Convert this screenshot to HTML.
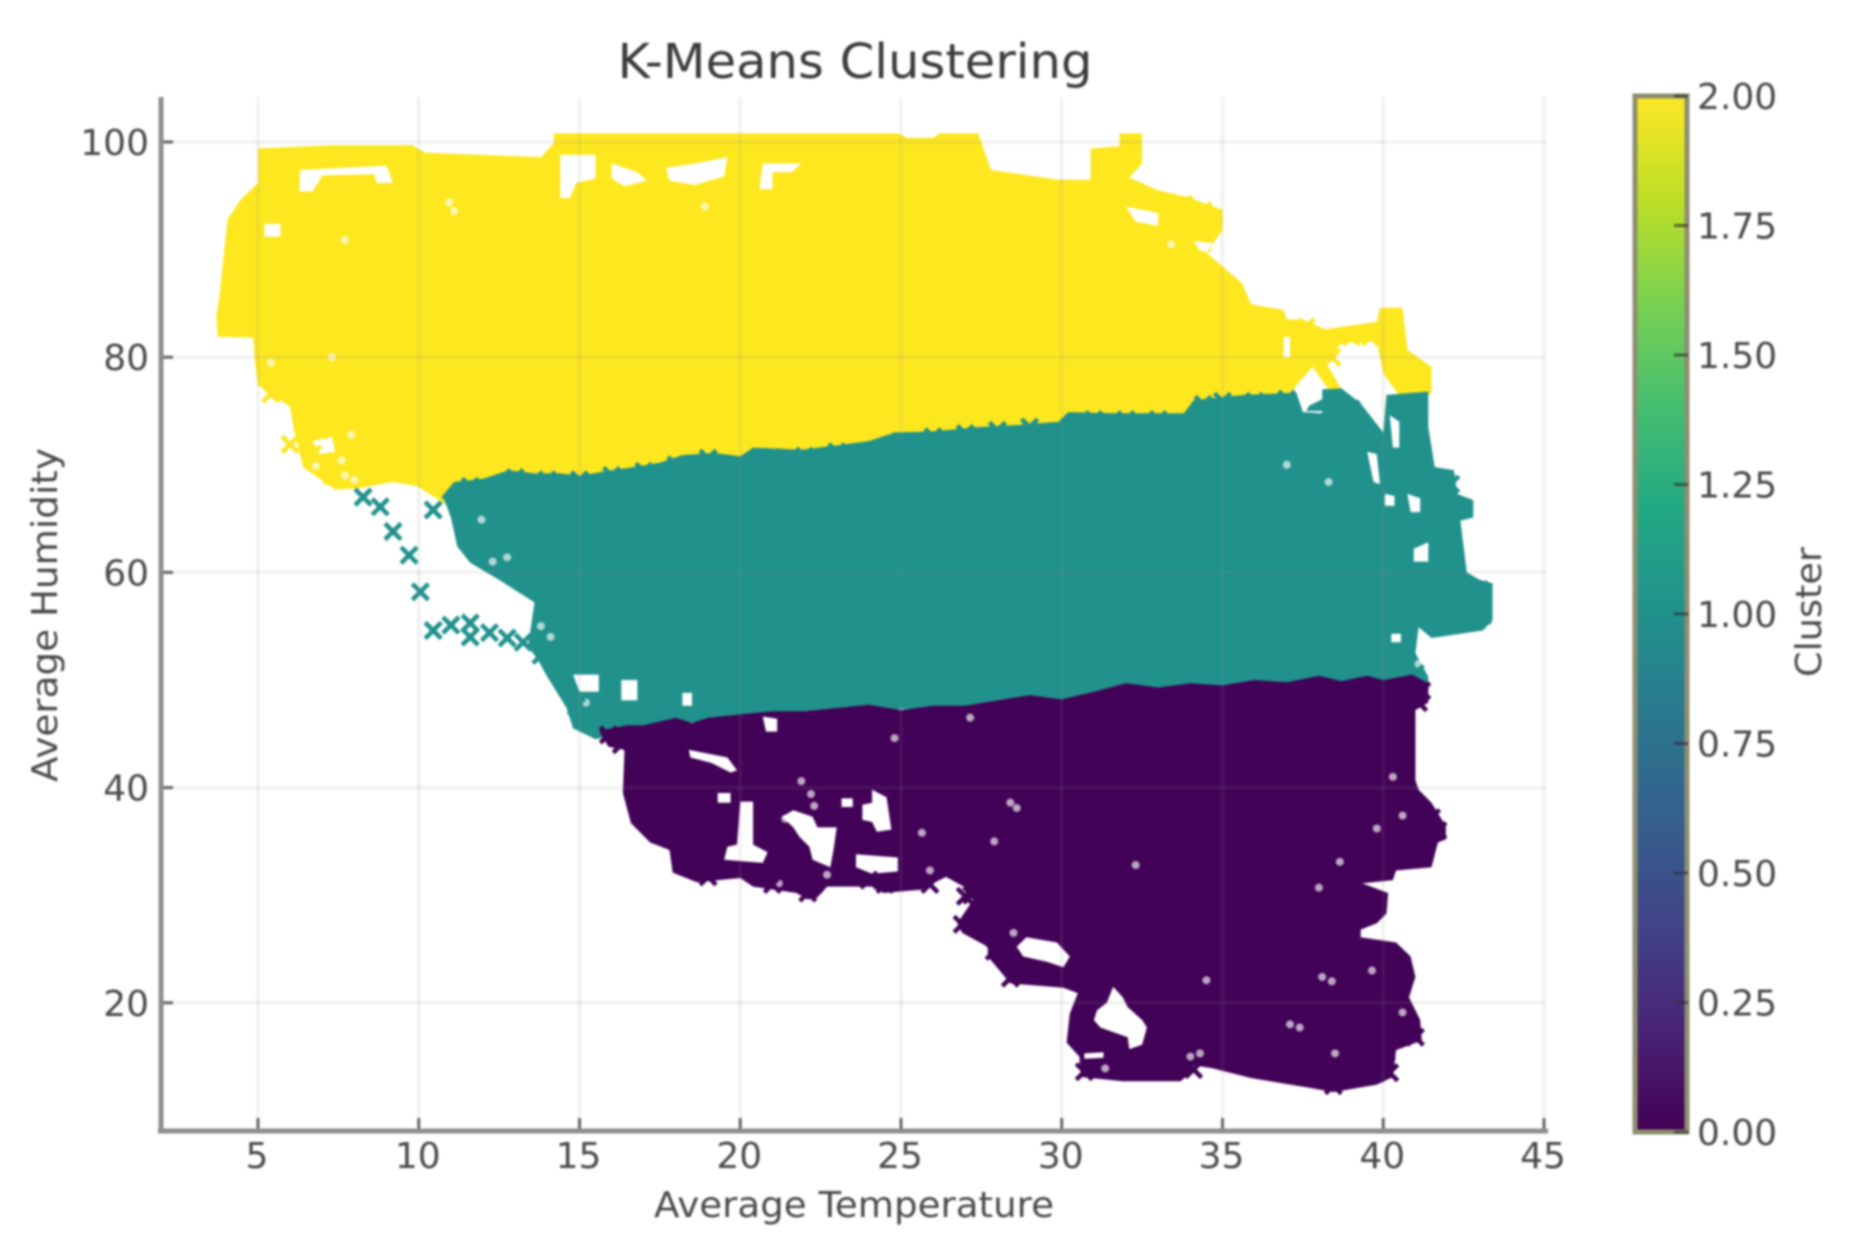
<!DOCTYPE html>
<html lang="en">
<head>
<meta charset="utf-8">
<title>K-Means Clustering</title>
<style>
html,body{margin:0;padding:0;background:#fff;width:1853px;height:1256px;overflow:hidden}
svg{display:block;filter:blur(1px)}
text{font-family:"DejaVu Sans","Liberation Sans",sans-serif}
</style>
</head>
<body>
<svg id="chart" xmlns="http://www.w3.org/2000/svg" width="1853" height="1256" viewBox="0 0 1853 1256">
  <defs>
    <linearGradient id="viridis" x1="0" y1="1" x2="0" y2="0">
      <stop offset="0" stop-color="#440154"/><stop offset="0.1" stop-color="#482475"/>
      <stop offset="0.2" stop-color="#414487"/><stop offset="0.3" stop-color="#355f8d"/>
      <stop offset="0.4" stop-color="#2a788e"/><stop offset="0.5" stop-color="#21918c"/>
      <stop offset="0.6" stop-color="#22a884"/><stop offset="0.7" stop-color="#44bf70"/>
      <stop offset="0.8" stop-color="#7ad151"/><stop offset="0.9" stop-color="#bddf26"/>
      <stop offset="1" stop-color="#fde725"/>
    </linearGradient>
  </defs>
  <rect width="1853" height="1256" fill="#fff"/>
  <g id="grid-under"></g>
  <g id="marks"></g>
  <g id="grid-over"></g>
  <g id="axes"></g>
  <g id="colorbar"></g>
  <text x="855" y="78" text-anchor="middle" font-size="48" fill="#3c3c3c" textLength="475" lengthAdjust="spacingAndGlyphs">K-Means Clustering</text>
  <text x="854" y="1217" text-anchor="middle" font-size="36" fill="#4a4a4a" textLength="400" lengthAdjust="spacingAndGlyphs">Average Temperature</text>
  <text transform="translate(57,615) rotate(-90)" text-anchor="middle" font-size="36" fill="#4a4a4a" textLength="334" lengthAdjust="spacingAndGlyphs">Average Humidity</text>
  <text transform="translate(1821,612) rotate(-90)" text-anchor="middle" font-size="36" fill="#4a4a4a" textLength="130" lengthAdjust="spacingAndGlyphs">Cluster</text>
</svg>
<script>
// Axis ticks
const xTickValues = [5, 10, 15, 20, 25, 30, 35, 40, 45];
const yTickValues = [20, 40, 60, 80, 100];
const colorbarTickValues = [0, 0.25, 0.5, 0.75, 1, 1.25, 1.5, 1.75, 2];

// Cluster 2 (yellow) region outline: [temperature, humidity]
const yellowOutline = [[5,99.4],[7.2,99.7],[9.8,99.7],[10.2,99],[13.8,98.6],[14.2,99.9],[14.2,100.8],[24.9,100.8],[25.2,100.4],[26,100.4],[26.2,100.8],[27.4,100.8],[27.8,97.4],[29.9,96.5],[30.9,96.5],[30.9,99.4],[31.8,99.6],[31.8,100.8],[32.5,100.8],[32.5,98],[32.1,96.7],[33,95.5],[33.9,94.9],[35,93.7],[35,91.8],[34.5,89.7],[35.6,86.9],[35.9,84.9],[36.9,84.4],[37,83.5],[37.5,83.5],[38.2,82.6],[39.8,83.3],[39.9,84.6],[40.6,84.6],[40.75,80.7],[41.5,79.1],[41.5,76.6],[40.6,76],[40,78.5],[39.8,81.5],[38.7,81.3],[38.2,79.6],[38.7,77],[38.3,77],[37.8,79.1],[37.25,77.2],[37.2,76],[36,72],[12,64],[10.6,66.8],[9.95,68],[9.2,68.4],[8.1,67.8],[7.4,67.7],[6.4,69.8],[6.1,73.5],[6,75.4],[5,77.4],[4.9,79.7],[4.85,81.8],[3.75,81.9],[3.7,83.7],[3.8,85.6],[4.05,92.8],[4.45,94.6],[5,96.2]];
const yellowGapOne = [[14.4,98.8],[15.5,98.8],[15.5,96.6],[14.9,96.2],[14.7,94.8],[14.4,94.8]];
const yellowGapTwo = [[16,98],[16.8,97.2],[17.1,96.4],[16.4,95.9],[16,96.6]];
const yellowGapThree = [[17.7,97.6],[18.6,98],[19.6,98.6],[19.5,96.8],[18.6,96],[17.8,96.4]];
const yellowGapFour = [[20.7,98],[21.9,98],[21.6,97.2],[21,97.2],[21,95.6],[20.6,95.6]];
const yellowGapFive = [[6.3,97.4],[9,97.8],[9.2,96.2],[8.7,96.2],[8.6,97],[7,96.9],[6.7,95.4],[6.3,95.4]];
const yellowGapSix = [[5.2,92.4],[5.7,92.4],[5.7,91.2],[5.2,91.2]];
const yellowGapSeven = [[6.7,72.2],[7.3,72.6],[7.4,71.2],[6.9,71]];
const yellowGapEight = [[32,94],[33,93.4],[33,92.2],[32.3,92.6]];
const yellowGapNine = [[34.1,90.8],[34.7,90.6],[34.6,89.7],[34.3,89.9]];
const yellowGapTen = [[36.9,81.9],[37.1,81.9],[37.1,80],[36.9,80]];
const yellowGapDots = [[10.95,94.4],[11.1,93.6],[18.9,94],[7.7,90.9],[5.4,79.5],[7.3,80],[7.7,69],[8,68.6],[33.4,90.5],[6.8,69.9],[7.6,70.4],[7.9,72.8]];
const yellowPoints = [[6.9,74],[6.5,75],[7.3,73.2],[6.7,71],[7.3,69],[6,71.9],[5.4,76.6],[37.6,82.8],[38,81.6],[38.4,80],[39,81.9],[39.6,81.9],[41,78.2],[32.1,99.8],[33.8,94.2],[34.4,93.6],[34.9,86.6]];

// Cluster 1 (teal) region outline
const tealOutline = [[10.7,67],[11.1,68.4],[12,68.7],[12.8,69.5],[13.6,69.2],[14.4,69.2],[15,69],[16,69.5],[16.7,69.8],[17.5,70.2],[18.2,70.9],[19.2,71.1],[20,70.8],[20.4,71.6],[21.9,71.4],[23,71.8],[24,72.2],[24.8,73],[26,73.1],[27.4,73.5],[28.6,73.7],[29.9,74],[30.2,74.9],[31.5,74.8],[33.8,74.8],[34.1,76],[35.7,76.5],[37.3,76.7],[37.5,74.9],[38.1,74.8],[38.1,77],[38.7,77.1],[39.3,75.7],[40,73],[40.1,76.5],[41.4,76.8],[41.4,73.5],[41.6,69.8],[42.2,69.5],[42.3,67.3],[42.8,66.7],[42.8,65.1],[42.4,64.8],[42.6,60],[43,59.3],[43.4,59],[43.4,55.6],[43.1,54.6],[41.5,53.9],[41.1,54.9],[41,52.5],[41.4,50.3],[41.4,49],[30,47.9],[22,46.9],[20,46.6],[17,45.5],[15.5,44.5],[14.8,45.5],[14.6,47.4],[14,50.3],[13.7,51.9],[13.4,53.1],[13.6,57.2],[12.5,59.3],[11.6,60.9],[11.2,62.4],[11,65.1],[10.8,66.7]];
const tealGapOne = [[14.8,50.5],[15.6,50.5],[15.6,48.9],[15,48.9]];
const tealGapTwo = [[16.3,50],[16.8,50],[16.8,48.1],[16.3,48.1]];
const tealGapThree = [[18.2,48.8],[18.5,48.8],[18.5,47.6],[18.2,47.6]];
const tealGapFour = [[39.5,71.2],[39.8,71],[39.9,68.2],[39.7,68.4]];
const tealGapFive = [[40.2,74.6],[40.5,74],[40.5,71.6],[40.3,71.6]];
const tealGapSix = [[40.05,67.3],[40.35,67.1],[40.35,66.2],[40.05,66.2]];
const tealGapSeven = [[40.75,67.3],[41.15,66.9],[41.15,65.6],[40.85,65.6]];
const tealGapEight = [[40.95,62.2],[41.4,62.8],[41.4,61],[40.95,61]];
const tealGapNine = [[40.25,54.3],[40.55,54.3],[40.55,53.5],[40.25,53.5]];
const tealGapTen = [[38.1,76.1],[37.7,75.5],[37.6,75],[38.1,75]];
const tealGapDots = [[11.95,64.9],[12.75,61.4],[12.3,61],[13.8,55],[14.1,54],[15.2,47.9],[41.2,53.2],[41.1,51.5],[38.3,68.4],[37,70]];
const tealPoints = [[8.27,67],[8.8,66.1],[9.2,63.8],[9.7,61.6],[10.05,58.2],[10.45,54.6],[11,55.1],[11.6,55.3],[11.6,54],[12.2,54.4],[12.75,53.9],[13.25,53.5],[10.45,65.8],[13.8,52.3],[14.5,50.9],[14.9,47.5],[15.4,46.6],[16.3,46.6],[16,47.4],[17.3,47.2],[42.5,66],[42.1,68.2],[38.4,76.2],[39,75.2],[40.8,75.5],[43.1,56],[43,58.4],[11.6,68],[13,68.8],[14,68.6],[15,68.6],[16,69],[17,69.4],[18,70],[19,70.6],[21,70.7],[22,70.8],[23,71.2],[25,72.2],[26,72.6],[27,72.9],[28,73.2],[29,73.5],[31,74.2],[32,74.2],[33,74.2],[34.4,75.6],[35,75.9],[36,75.9],[37,76.1],[41.6,68.4],[40.6,52.6],[41,50.6]];

// Cluster 0 (purple) region outline
const purpleOutline = [[15.6,45.3],[15.9,43.8],[16.4,43.5],[16.35,39.5],[16.6,36.7],[17.2,34.9],[17.8,34.2],[17.9,32.1],[18.65,31.2],[20,31.6],[20.4,30.8],[21.75,30.2],[22.1,29.6],[22.4,29.8],[22.7,30.8],[24.1,30.8],[24.45,30.2],[25.6,30.5],[26.4,31.7],[26.95,30.8],[27.25,29.6],[26.75,27.4],[26.9,26.5],[27.7,25.2],[27.7,24.3],[28.4,21.8],[30.05,21.4],[30.5,20.9],[30.25,19],[30.15,16.3],[30.55,15],[30.6,13.1],[31.9,12.7],[33.7,12.7],[34,13.5],[34.1,14.2],[34.7,13.9],[35.9,13],[37.7,12.1],[38.45,11.7],[39.8,12.4],[40.3,13.1],[40.4,15.6],[41.2,16.5],[41.15,18.4],[40.8,20.5],[41,22.4],[40.85,24.3],[40.4,25.6],[39.3,26.1],[39.3,26.8],[39.8,27.4],[40.1,28.3],[40.15,30.2],[39.35,31.1],[40.3,31.4],[40.4,32.3],[41.5,32.6],[41.7,34.9],[41.95,35.2],[41.95,36.4],[41.5,38.6],[41.1,39.8],[41,40.7],[41,44.7],[41,47.2],[41.4,47.9],[41.4,49.7],[40.9,50.5],[40,50],[39.5,50.4],[38.7,49.9],[38,50.4],[37,49.8],[36,50],[35,49.5],[34,49.7],[33,49.3],[32,49.7],[31,48.9],[30,48.2],[29,48.6],[28,48.1],[27,47.6],[26,47.6],[25,47.2],[24,47.7],[23,47.4],[22,47.1],[21,47.1],[20,46.8],[19,46.5],[18.5,46],[18,46.5],[17,45.8],[16.5,45.8]];
const purpleGapOne = [[18.4,43.5],[19.6,42.8],[19.9,41.6],[19.7,41.4],[19.1,42.3],[18.45,42.8]];
const purpleGapTwo = [[19.3,39.5],[19.7,39.5],[19.7,38.6],[19.3,38.6]];
const purpleGapThree = [[20,38.7],[20.4,38.7],[20.4,34.7],[20.85,34],[20.7,33],[19.5,33.3],[19.6,34.5],[19.9,34.7]];
const purpleGapFour = [[21.3,37.3],[21.65,37.9],[22.25,37.3],[22.4,36.3],[23,36.3],[22.9,34.2],[22.8,32.6],[22.25,33.3],[22.15,34.5],[21.85,35.4],[21.65,36.3]];
const purpleGapFive = [[24.1,39.8],[24.55,39.1],[24.7,36.1],[24.25,35.9],[24.1,36.8],[23.8,37],[23.8,38.4],[24.1,38.6]];
const purpleGapSix = [[23.6,33.8],[24.9,33.5],[24.9,32.2],[24.1,32],[23.6,32.6]];
const purpleGapSeven = [[20.7,46.6],[21.15,46.4],[21.15,45.2],[20.8,45.2]];
const purpleGapEight = [[23.15,39],[23.5,39],[23.5,38.2],[23.15,38.2]];
const purpleGapNine = [[28.6,25.2],[28.9,26.1],[29.85,25.6],[30.25,24.3],[30.05,23.3],[29.55,23.8],[28.8,24.3]];
const purpleGapTen = [[31.6,21.5],[31.9,20.5],[32.05,19.6],[32.5,18.4],[32.65,17.7],[32.5,16.1],[32.1,15.7],[32.05,16.8],[31.2,17.7],[31,18.4],[31.1,19.3],[31.4,20]];
const purpleGapEleven = [[30.7,15.3],[31.3,15.4],[31.3,14.9],[30.7,14.8]];
const purpleGapDots = [[21.9,40.6],[22.2,39.4],[22.3,38.3],[21.4,37.1],[22.7,31.9],[21.2,31.1],[27.15,46.5],[24.8,44.6],[25.65,35.8],[28.4,38.6],[28.6,38.1],[27.9,35],[25.9,32.3],[28.5,26.5],[31.35,13.9],[34,15],[34.3,15.3],[37.4,17.7],[37.1,18],[38.5,15.3],[38.1,22.4],[38.4,22],[38,30.7],[32.3,32.8],[39.65,23],[40.6,19.1],[38.65,33.1],[34.5,22.1],[40.3,41],[40.6,37.4],[39.8,36.2]];
const purplePoints = [[22.1,30.2],[24.5,31],[24,31.4],[22.3,31],[27.2,30],[26.9,27.3],[28.4,22.3],[27.9,24.8],[30.7,13.6],[38.45,12.3],[41.7,36],[41.5,37.2],[15.9,44.9],[16.3,44],[41.1,47.9],[41.2,49],[21,31],[19,31.7],[34.1,13.8],[40.2,13.5],[41,16.8],[40.1,15.4],[25.9,31],[27,29.9]];

const xScale = t => 258 + 32.15 * (t - 5);
const yScale = h => 142 + 10.76 * (100 - h);
const barScale = v => 96 + 518 * (2 - v);
const SVG_NS = 'http://www.w3.org/2000/svg';

function make(tag, attrs, parent) {
  const el = document.createElementNS(SVG_NS, tag);
  for (const k in attrs) el.setAttribute(k, attrs[k]);
  parent.appendChild(el);
  return el;
}
function ringPath(points) {
  return 'M' + points.map(p => xScale(p[0]).toFixed(1) + ' ' + yScale(p[1]).toFixed(1)).join('L') + 'Z';
}
function crossPath(p) {
  const x = xScale(p[0]), y = yScale(p[1]), r = 8;
  return `M${(x-r).toFixed(1)} ${(y-r).toFixed(1)}L${(x+r).toFixed(1)} ${(y+r).toFixed(1)}M${(x-r).toFixed(1)} ${(y+r).toFixed(1)}L${(x+r).toFixed(1)} ${(y-r).toFixed(1)}`;
}

const gridUnder = document.getElementById('grid-under');
const gridOver = document.getElementById('grid-over');
const marks = document.getElementById('marks');
const axes = document.getElementById('axes');
const colorbar = document.getElementById('colorbar');

// Grid lines and axis ticks
xTickValues.forEach(v => {
  const x = xScale(v);
  const line = make('line', {x1:x, x2:x, y1:97, y2:1131, stroke:'#888', 'stroke-opacity':0.12, 'stroke-width':3.5}, gridOver);
  
  
  const tick = make('line', {x1:x, x2:x, y1:1118, y2:1131, stroke:'#666', 'stroke-width':3}, axes);
  
  
  const label = make('text', {x:x - 1, y:1168, 'text-anchor':'middle', 'font-size':36, fill:'#4a4a4a'}, axes);
  
  
  label.textContent = v;
});
yTickValues.forEach(v => {
  const y = yScale(v);
  const line = make('line', {x1:160, x2:1546, y1:y, y2:y, stroke:'#888', 'stroke-opacity':0.12, 'stroke-width':3.5}, gridOver);
  
  
  const tick = make('line', {x1:160, x2:173, y1:y, y2:y, stroke:'#666', 'stroke-width':3}, axes);
  
  
  const label = make('text', {x:149, y:y + 13, 'text-anchor':'end', 'font-size':36, fill:'#4a4a4a'}, axes);
  
  
  label.textContent = v;
});

// Spines
const leftSpine = make('line', {x1:161, x2:161, y1:97, y2:1133, stroke:'#8e8e8e', 'stroke-width':5}, axes);


const bottomSpine = make('line', {x1:158, x2:1548, y1:1131, y2:1131, stroke:'#8e8e8e', 'stroke-width':5}, axes);



// Cluster regions and isolated crosses
function drawCluster(name, color, rings, gapDots, crosses) {
  const region = make('path', {d: rings.map(ringPath).join(''), fill: color, 'fill-rule': 'evenodd'}, marks);
  
  
  gapDots.forEach(p => {
    const dot = make('circle', {cx: xScale(p[0]), cy: yScale(p[1]), r: 4, fill: '#fff', 'fill-opacity': 0.65}, marks);
    
    
  });
  crosses.forEach(p => {
    const cross = make('path', {d: crossPath(p), fill: 'none', stroke: color, 'stroke-width': 4.5}, marks);
    
    
  });
}
drawCluster('cluster-2', '#fde71f',
  [yellowOutline, yellowGapOne, yellowGapTwo, yellowGapThree, yellowGapFour, yellowGapFive, yellowGapSix, yellowGapSeven, yellowGapEight, yellowGapNine, yellowGapTen],
  yellowGapDots, yellowPoints);
drawCluster('cluster-1', '#21918c',
  [tealOutline, tealGapOne, tealGapTwo, tealGapThree, tealGapFour, tealGapFive, tealGapSix, tealGapSeven, tealGapEight, tealGapNine, tealGapTen],
  tealGapDots, tealPoints);
drawCluster('cluster-0', '#420257',
  [purpleOutline, purpleGapOne, purpleGapTwo, purpleGapThree, purpleGapFour, purpleGapFive, purpleGapSix, purpleGapSeven, purpleGapEight, purpleGapNine, purpleGapTen, purpleGapEleven],
  purpleGapDots, purplePoints);

// Colorbar
const bar = make('rect', {x:1635, y:barScale(2), width:52, height:barScale(0) - barScale(2), fill:'url(#viridis)', stroke:'#8e8e70', 'stroke-width':5}, colorbar);


colorbarTickValues.forEach(v => {
  const y = barScale(v);
  const tick = make('line', {x1:1674, x2:1688, y1:y, y2:y, stroke:'#333', 'stroke-opacity':0.7, 'stroke-width':3}, colorbar);
  
  
  const label = make('text', {x:1697, y:y + 13, 'font-size':36, fill:'#4a4a4a'}, colorbar);
  
  
  label.textContent = v.toFixed(2);
});
</script>
</body>
</html>
